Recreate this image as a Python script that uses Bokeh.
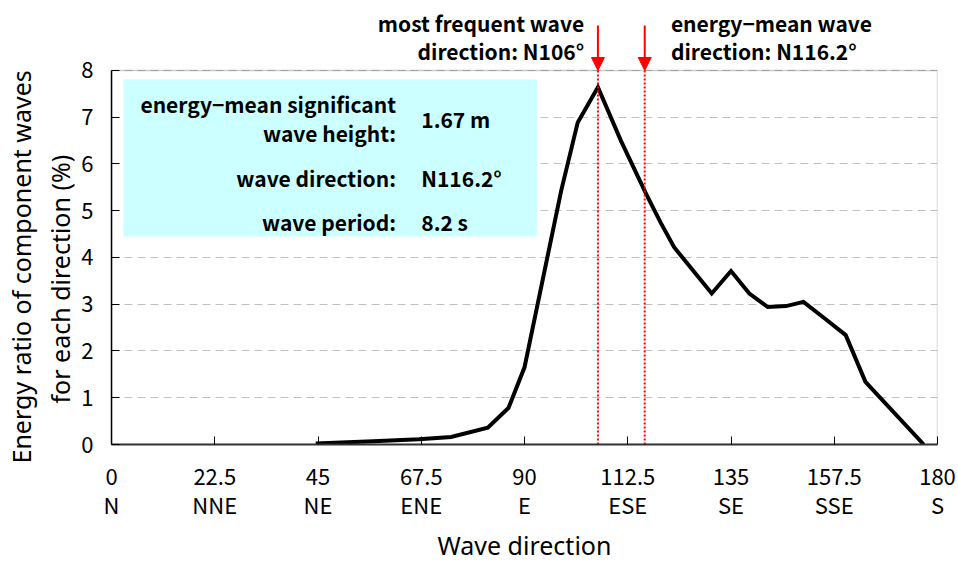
from bokeh.plotting import figure
from bokeh.models import (Range1d, FixedTicker, LinearAxis, Label, BoxAnnotation,
                          Arrow, NormalHead, Title)
from bokeh.embed import file_html
from bokeh.resources import INLINE

# Energy ratio of component waves by direction (deg from N, %)
direction = [44.5, 57, 67, 74, 82, 86.5, 90, 98, 101.6, 106, 111, 116.5,
             119.7, 122.6, 130.8, 135, 139, 143, 147, 150.8, 155.5, 160,
             164.3, 177]
energy_ratio = [0.02, 0.07, 0.11, 0.16, 0.36, 0.78, 1.65, 5.43, 6.89, 7.64,
                6.50, 5.36, 4.74, 4.22, 3.23, 3.71, 3.23, 2.94, 2.96, 3.05,
                2.69, 2.34, 1.34, 0.0]

tick_deg = [0, 22.5, 45, 67.5, 90, 112.5, 135, 157.5, 180]
tick_num_labels = ["0", "22.5", "45", "67.5", "90", "112.5", "135", "157.5", "180"]
tick_compass = ["N", "NNE", "NE", "ENE", "E", "ESE", "SE", "SSE", "S"]
y_ticks = [0, 1, 2, 3, 4, 5, 6, 7, 8]
y_max = 8

most_frequent_dir = 106
energy_mean_dir = 116.2

summary_names = ["energy\u2212mean significant", "wave height:", "wave direction:", "wave period:"]
summary_values = ["1.67 m", "N116.2\u00b0", "8.2 s"]

y_title_lines = ["Energy ratio of component waves", "for each direction (%)"]

TICK_FONT = "Noto Sans CJK JP"
BOLD_FONT = "Noto Sans CJK JP"
LABEL_FONT = "Noto Sans"

# the y range runs past the top tick so the arrow captions sit inside the frame
p = figure(width=958, height=565, output_backend="svg", toolbar_location=None,
           x_range=Range1d(0, 180), y_range=Range1d(0, 9.39),
           min_border_left=110, min_border_right=21, min_border_top=5,
           min_border_bottom=121)
p.background_fill_color = "white"
p.border_fill_color = "white"
p.outline_line_color = None

# grid
p.xgrid.grid_line_color = None
p.ygrid.grid_line_color = "#c0c0c0"
p.ygrid.grid_line_dash = "8 5"
p.ygrid.grid_line_width = 1

# y axis
ya = p.yaxis[0]
ya.ticker = FixedTicker(ticks=y_ticks)
ya.bounds = (0, y_max)
ya.major_tick_in = 8
ya.major_tick_out = 0
ya.minor_tick_line_color = None
ya.axis_line_color = "black"
ya.axis_line_width = 1.5
ya.major_tick_line_color = "black"
ya.major_label_text_font = TICK_FONT
ya.major_label_text_font_size = "22px"
ya.major_label_text_color = "black"
ya.major_label_standoff = 18

# y axis title, two lines, each starting near the bottom of the plot area
for text, offset, standoff in ((y_title_lines[1], 41, 4), (y_title_lines[0], -19, 2)):
    p.add_layout(Title(text=text, align="left", offset=offset, standoff=standoff,
                       text_font=LABEL_FONT, text_font_style="normal",
                       text_font_size="25px", text_color="black"), "left")

# x axis: numeric degrees
xa = p.xaxis[0]
xa.ticker = FixedTicker(ticks=tick_deg)
xa.major_label_overrides = {float(t): s for t, s in zip(tick_deg, tick_num_labels)}
xa.major_tick_in = 8
xa.major_tick_out = 0
xa.minor_tick_line_color = None
xa.axis_line_color = "#333333"
xa.axis_line_width = 2
xa.major_tick_line_color = "black"
xa.major_label_text_font = TICK_FONT
xa.major_label_text_font_size = "22px"
xa.major_label_text_color = "black"
xa.major_label_standoff = 24

# x axis: compass points
xc = LinearAxis(ticker=FixedTicker(ticks=tick_deg),
                major_label_overrides={float(t): s for t, s in zip(tick_deg, tick_compass)})
xc.axis_line_color = None
xc.major_tick_line_color = None
xc.major_tick_in = 0
xc.major_tick_out = 0
xc.minor_tick_line_color = None
xc.major_label_text_font = TICK_FONT
xc.major_label_text_font_size = "22px"
xc.major_label_text_color = "black"
xc.major_label_standoff = 0
xc.axis_label = "Wave direction"
xc.axis_label_text_font = LABEL_FONT
xc.axis_label_text_font_style = "normal"
xc.axis_label_text_font_size = "25px"
xc.axis_label_text_color = "black"
xc.axis_label_standoff = 5
p.add_layout(xc, "below")

# plot area border (top and right edges)
p.add_layout(BoxAnnotation(left=0, right=180, bottom=0, top=y_max, fill_color=None,
                           line_color="#595959", line_width=1.5, level="underlay"))

# summary box
p.add_layout(BoxAnnotation(left=2.6, right=92.7, bottom=4.45, top=7.81,
                           fill_color="#ccffff", fill_alpha=1.0, line_color=None))

# energy ratio curve
p.line(direction, energy_ratio, line_color="black", line_width=4, line_join="miter")

# direction markers: dotted guide inside the plot area, arrow above it
for d in (most_frequent_dir, energy_mean_dir):
    p.segment(x0=[d], y0=[0], x1=[d], y1=[y_max], line_color="red",
              line_width=2, line_dash="2 2")
    p.add_layout(Arrow(x_start=d, y_start=8.96, x_end=d, y_end=y_max,
                       line_color="red", line_width=2,
                       end=NormalHead(size=13, fill_color="red", line_color="red")))

def bold_label(x, y, text, align):
    p.add_layout(Label(x=x, y=y, text=text, text_align=align, text_baseline="middle",
                       text_font=BOLD_FONT, text_font_style="bold",
                       text_font_size="21px", text_color="black"))

# arrow captions
bold_label(103.0, 9.02, "most frequent wave", "right")
bold_label(103.0, 8.42, "direction: N%d\u00b0" % most_frequent_dir, "right")
bold_label(121.9, 9.02, "energy\u2212mean wave", "left")
bold_label(121.9, 8.42, "direction: N%.1f\u00b0" % energy_mean_dir, "left")

# summary text
name_y = [7.29, 6.67, 5.71, 4.75]
value_y = [6.97, 5.71, 4.75]
for t, y in zip(summary_names, name_y):
    bold_label(62.0, y, t, "right")
for t, y in zip(summary_values, value_y):
    bold_label(67.5, y, t, "left")

open("out.html", "w").write(file_html(p, INLINE))
